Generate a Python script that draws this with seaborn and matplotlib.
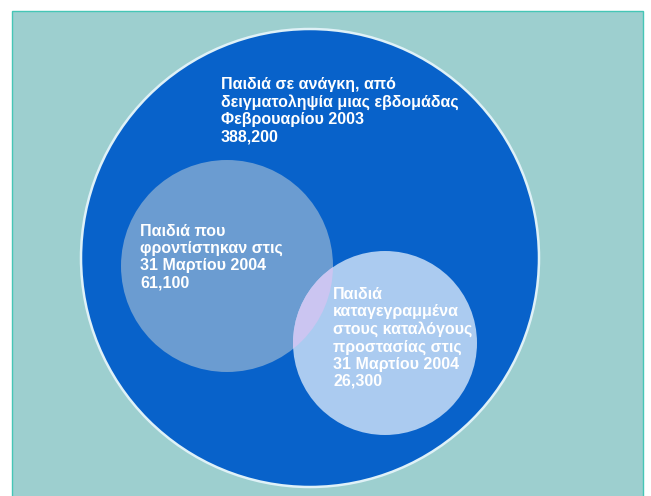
import matplotlib
matplotlib.use("Agg")
import matplotlib.pyplot as plt
import seaborn as sns
from matplotlib.patches import Circle, Rectangle

# groups shown in the diagram (outer to inner)
labels = [
    "Παιδιά σε ανάγκη, από\nδειγματοληψία μιας εβδομάδας\nΦεβρουαρίου 2003",
    "Παιδιά που\nφροντίστηκαν στις\n31 Μαρτίου 2004",
    "Παιδιά\nκαταγεγραμμένα\nστους καταλόγους\nπροστασίας στις\n31 Μαρτίου 2004",
]
counts = [388200, 61100, 26300]

# layout (pixels): circle centre, radius, text anchor
centres = [(310, 258), (227, 266), (385, 343)]
radii = [229, 106, 92]
text_pos = [(221, 111), (140, 257), (333, 338)]
fills = ["#0862ca", "#6b9cd1", "#abcbf0"]
overlap = "#cbc5f1"

sns.set_theme(style="white")
plt.rcParams["font.family"] = ["Liberation Sans", "DejaVu Sans"]

fig = plt.figure(figsize=(6.51, 4.96), dpi=100)
ax = fig.add_axes([0, 0, 1, 1])
ax.set_xlim(0, 651)
ax.set_ylim(496, 0)
ax.set_aspect("equal")
ax.axis("off")

# teal panel
ax.add_patch(Rectangle((12, 11), 631, 500, fc="#9dcfcf", ec="#45c6b6", lw=1))

big = Circle(centres[0], radii[0], fc=fills[0], ec="#dff1f7", lw=1.8, zorder=2)
ax.add_patch(big)
mid = Circle(centres[1], radii[1], fc=fills[1], ec="none", zorder=3)
ax.add_patch(mid)
small = Circle(centres[2], radii[2], fc=fills[2], ec="none", zorder=4)
ax.add_patch(small)
lav = Circle(centres[1], radii[1], fc=overlap, ec="none", zorder=5)
ax.add_patch(lav)
lav.set_clip_path(small)

for lab, n, (tx, ty) in zip(labels, counts, text_pos):
    ax.text(tx, ty, f"{lab}\n{n:,}", color="white", fontsize=11.5,
            fontweight="bold", ha="left", va="center", linespacing=1.17,
            zorder=6)

fig.savefig("out.png", dpi=100)
